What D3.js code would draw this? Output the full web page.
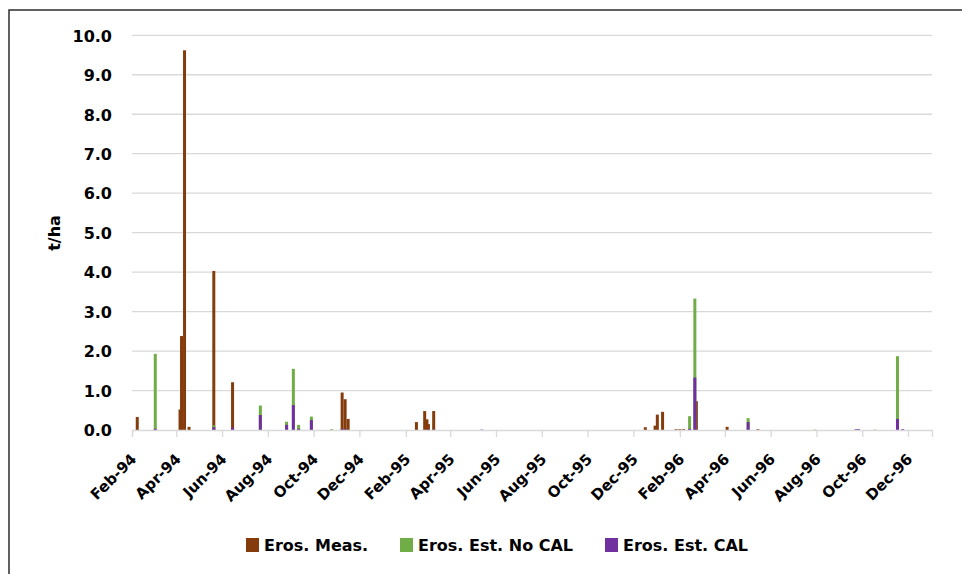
<!DOCTYPE html>
<html>
<head>
<meta charset="utf-8">
<script src="https://cdn.jsdelivr.net/npm/d3@7"></script>
<style>
  body { margin: 0; background: #fff; }
  text { font-family: "DejaVu Sans", sans-serif; font-weight: bold; fill: #000; }
</style>
</head>
<body>
<svg width="962" height="574"></svg>
<script>
// event dates and the three erosion series (t/ha), 0 = no bar
const dates = ["1994-02-08","1994-03-04","1994-04-06","1994-04-08","1994-04-12","1994-04-18",
  "1994-05-21","1994-06-15","1994-07-22","1994-08-26","1994-09-04","1994-09-11","1994-09-28",
  "1994-10-25","1994-11-08","1994-11-12","1994-11-16","1995-02-15","1995-02-26","1995-03-01",
  "1995-03-03","1995-03-10","1995-05-13","1995-12-17","1995-12-30","1996-01-02","1996-01-09",
  "1996-01-27","1996-02-01","1996-02-06","1996-02-14","1996-02-21","1996-02-23","1996-04-04",
  "1996-05-02","1996-05-15","1996-07-30","1996-09-23","1996-09-26","1996-10-18","1996-11-17",
  "1996-11-24"]
const erosMeas = [0.33,0,0.52,2.38,9.62,0.08, 4.03,1.21,0,0,0,0,0, 0,0.95,0.78,0.28,0.2,0.48,0.27,
  0.15,0.48,0,0.07,0.11,0.39,0.46, 0.02,0.02,0.02,0,0,0.73,0.08, 0,0.02,0,0,0,0,0, 0]
const erosNoCal = [0,1.93,0,0,0,0, 0.12,0,0.62,0.21,1.55,0.13,0.34, 0.02,0,0,0,0,0,0,
  0,0,0,0,0,0,0, 0,0,0,0.35,3.33,0,0, 0.3,0,0.01,0,0,0.01,1.87, 0]
const erosCal = [0,0.03,0,0,0,0, 0.07,0.06,0.38,0.13,0.63,0.03,0.25, 0,0.02,0.02,0,0,0,0,
  0.01,0.01,0.01,0,0,0,0, 0,0,0,0.03,1.33,0,0, 0.2,0,0,0.02,0.02,0,0.28, 0.02]

const tickLabels = ["Feb-94","Apr-94","Jun-94","Aug-94","Oct-94","Dec-94","Feb-95","Apr-95","Jun-95",
  "Aug-95","Oct-95","Dec-95","Feb-96","Apr-96","Jun-96","Aug-96","Oct-96","Dec-96"]
const yTicks = [0,1,2,3,4,5,6,7,8,9,10]

const seriesNames = ["Eros. Meas.", "Eros. Est. No CAL", "Eros. Est. CAL"]
const seriesColors = ["#843c0c", "#70ad47", "#7030a0"]

const parseDate = d3.timeParse("%Y-%m-%d")
const parseTick = d3.timeParse("%b-%y")

const svg = d3.select("svg")

// outer chart border
svg.append("rect")
  .attr("x", 9).attr("y", 10)
  .attr("width", 980).attr("height", 600)
  .attr("fill", "none")
  .attr("stroke", "#3a3a3a")
  .attr("stroke-width", 1.6)

const x = d3.scaleTime()
  .domain([new Date(1994, 1, 1), new Date(1997, 0, 2)])
  .range([132, 932])

const y = d3.scaleLinear()
  .domain([0, 10])
  .range([430, 35.3])

// gridlines
svg.append("g")
  .selectAll("line")
  .data(yTicks.slice(1))
  .enter().append("line")
    .attr("x1", 132).attr("x2", 932)
    .attr("y1", d => y(d)).attr("y2", d => y(d))
    .attr("stroke", "#d9d9d9")
    .attr("stroke-width", 1.3)

// y axis labels
const yAxis = svg.append("g")
  .attr("transform", "translate(132,0)")
  .call(d3.axisLeft(y).tickValues(yTicks).tickFormat(d3.format(".1f")).tickSize(0).tickPadding(20))
yAxis.select(".domain").remove()
yAxis.selectAll("text").attr("font-size", 16).attr("dy", "0.36em")

svg.append("text")
  .attr("transform", "translate(60,233) rotate(-90)")
  .attr("text-anchor", "middle")
  .attr("font-size", 16)
  .text("t/ha")

// bars
const series = [erosMeas, erosNoCal, erosCal]
series.forEach(function(vals, i) {
  svg.append("g")
    .selectAll("rect")
    .data(dates.map((d, j) => ({ date: parseDate(d), v: vals[j] })).filter(d => d.v > 0))
    .enter().append("rect")
      .attr("x", d => x(d.date) - 1.5)
      .attr("width", 3)
      .attr("y", d => y(d.v))
      .attr("height", d => y(0) - y(d.v))
      .attr("fill", seriesColors[i])
})

// x axis
const xAxis = svg.append("g")
  .attr("transform", "translate(0,430)")
  .call(d3.axisBottom(x).tickValues(tickLabels.map(parseTick)).tickFormat(d3.timeFormat("%b-%y")).tickSize(7))
xAxis.select(".domain").attr("stroke", "#d9d9d9").attr("stroke-width", 1.3)
xAxis.selectAll(".tick line").attr("stroke", "#d9d9d9").attr("stroke-width", 1.3)
xAxis.selectAll("text")
  .attr("font-size", 15)
  .attr("text-anchor", "end")
  .attr("y", 0).attr("dy", 0)
  .attr("transform", "translate(5,30) rotate(-45)")

// legend
const legendX = [246, 400, 605]
const legend = svg.append("g")
  .selectAll("g")
  .data(seriesNames)
  .enter().append("g")
    .attr("transform", (d, i) => "translate(" + legendX[i] + ",538)")
legend.append("rect")
  .attr("width", 13).attr("height", 14)
  .attr("fill", (d, i) => seriesColors[i])
legend.append("text")
  .attr("x", 18).attr("y", 13)
  .attr("font-size", 16)
  .text(d => d)
</script>
</body>
</html>
